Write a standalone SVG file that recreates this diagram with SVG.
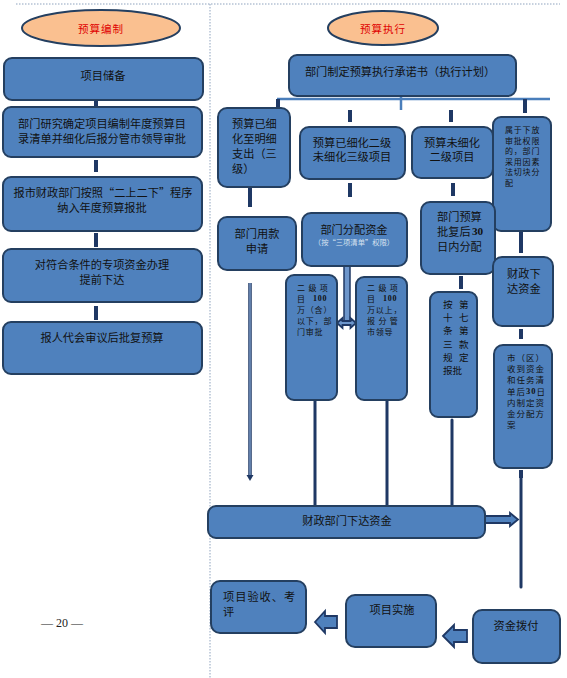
<svg xmlns="http://www.w3.org/2000/svg" width="567" height="678" viewBox="0 0 567 678">
<style>
.box{fill:#4F81BD;stroke:#243F60;stroke-width:2}
.el{fill:#FAC090;stroke:#243F60;stroke-width:2}
.t{font-family:"Noto Sans CJK SC","Noto Sans",sans-serif;fill:#111;dominant-baseline:central;font-size:11.2px}
.c{text-anchor:middle}
.r{fill:#E00000;font-size:10.5px;letter-spacing:1px}
.s{font-size:8px;letter-spacing:0.8px}
.m{font-size:8.5px;letter-spacing:1px}
.l{font-size:9.6px}
.n{font-family:"Liberation Serif",serif;font-weight:bold}
.bar{stroke:#1F3864;stroke-width:4;fill:none}
.ln{stroke:#1F3864;stroke-width:3;fill:none;stroke-linecap:round}
.dot{stroke:#8EA3BE;stroke-width:1;stroke-dasharray:1.5 1.5;fill:none}
.blk{fill:#4F81BD;stroke:#1F3864;stroke-width:1.8}
</style>
<rect width="567" height="678" fill="#fff"/>
<g id="frame">
<line class="dot" x1="16" y1="4" x2="560" y2="4"/>
<line class="dot" x1="210" y1="4" x2="210" y2="678"/>
</g>
<g id="connectors">
<line class="bar" x1="96" y1="101" x2="96" y2="108"/>
<line class="bar" x1="96" y1="160" x2="96" y2="172"/>
<line class="bar" x1="96" y1="233" x2="96" y2="247"/>
<line class="bar" x1="96" y1="306" x2="96" y2="320"/>
<line x1="277" y1="99" x2="550" y2="99" stroke="#4A7EBB" stroke-width="2.5"/>
<line x1="401" y1="92" x2="401" y2="110" stroke="#4A7EBB" stroke-width="2.5"/>
<line class="bar" x1="278" y1="99" x2="278" y2="110"/>
<line class="bar" x1="350" y1="110" x2="350" y2="122"/>
<line class="bar" x1="451" y1="110" x2="451" y2="122"/>
<line class="bar" x1="525" y1="99" x2="525" y2="113"/>
<line class="bar" x1="350" y1="183" x2="350" y2="197"/>
<line class="bar" x1="453" y1="183" x2="453" y2="196"/>
<line class="bar" x1="250" y1="187" x2="250" y2="207"/>
<line class="bar" x1="521" y1="232" x2="521" y2="253"/>
<line class="bar" x1="521" y1="329" x2="521" y2="339"/>
<line class="bar" x1="461" y1="276" x2="461" y2="289"/>
<line class="bar" x1="521" y1="470" x2="521" y2="478"/>
<line x1="250" y1="283" x2="250" y2="476" stroke="#1F3864" stroke-width="3.5"/>
<line x1="250" y1="283" x2="250" y2="476" stroke="#8FB0DA" stroke-width="1.2"/>
<path d="M246.5,475 L253.5,475 L250,481 Z" fill="#1F3864"/>
<line class="ln" x1="315" y1="400" x2="315" y2="505"/>
<line class="ln" x1="387" y1="400" x2="387" y2="505"/>
<line class="ln" x1="452" y1="420" x2="452" y2="505"/>
<line class="ln" x1="521" y1="478" x2="521" y2="587"/>
<rect x="344" y="266" width="6" height="55" fill="#6D96CB" stroke="#1F3864" stroke-width="1.5"/>
<path class="blk" d="M337,323 L342.5,318 L342.5,321 L350.5,321 L350.5,318 L356,323 L350.5,328 L350.5,325 L342.5,325 L342.5,328 Z" style="fill:#6D96CB"/>
<path class="blk" d="M485,516 L510,516 L510,513 L518,519.5 L510,526 L510,523 L485,523 Z"/>
<path class="blk" d="M315,622 L325,611 L325,616 L337,616 L337,628 L325,628 L325,633 Z"/>
<path class="blk" d="M443,636 L454,625 L454,630 L467,630 L467,642 L454,642 L454,647 Z"/>
</g>
<g id="ell-left"><ellipse class="el" cx="101" cy="28" rx="79" ry="18"/><text class="t c r" x="101" y="28">预算编制</text></g>
<g id="ell-right"><ellipse class="el" cx="383" cy="28" rx="55" ry="17"/><text class="t c r" x="383" y="28">预算执行</text></g>
<g id="n1"><rect class="box" x="4" y="58" width="199" height="42" rx="8"/><text class="t c" x="103" y="75">项目储备</text></g>
<g id="n2"><rect class="box" x="3" y="107" width="199" height="50" rx="8"/><text class="t c" x="102" y="123">部门研究确定项目编制年度预算目</text><text class="t c" x="102" y="137.5">录清单并细化后报分管市领导审批</text></g>
<g id="n3"><rect class="box" x="3" y="177" width="199" height="54" rx="8"/><text class="t c" x="103" y="192">报市财政部门按照“二上二下”程序</text><text class="t c" x="102" y="207">纳入年度预算报批</text></g>
<g id="n4"><rect class="box" x="3" y="249" width="199" height="53" rx="8"/><text class="t c" x="102" y="264">对符合条件的专项资金办理</text><text class="t c" x="102" y="278.5">提前下达</text></g>
<g id="n5"><rect class="box" x="3" y="322" width="199" height="52" rx="8"/><text class="t c" x="102" y="337">报人代会审议后批复预算</text></g>
<g id="r0"><rect class="box" x="289" y="55" width="227" height="41" rx="8"/><text class="t c" x="400" y="71">部门制定预算执行承诺书（执行计划）</text></g>
<g id="rA"><rect class="box" x="218" y="108" width="72" height="79" rx="9"/>
<text class="t"><tspan x="232" y="123">预算已细</tspan><tspan x="232" y="138">化至明细</tspan><tspan x="232" y="153">支出（三</tspan><tspan x="232" y="167.5">级）</tspan></text></g>
<g id="rB"><rect class="box" x="300" y="127" width="105" height="52" rx="9"/><text class="t c" x="352" y="141.5">预算已细化二级</text><text class="t c" x="352" y="156">未细化三级项目</text></g>
<g id="rC"><rect class="box" x="412" y="127" width="81" height="51" rx="9"/><text class="t c" x="452" y="141.5">预算未细化</text><text class="t c" x="452" y="156">二级项目</text></g>
<g id="rD"><rect class="box" x="493" y="117" width="58" height="114" rx="8"/>
<text class="t s"><tspan x="505" y="129">属于下放</tspan><tspan x="505" y="139.6">审批权限</tspan><tspan x="505" y="150.2">的，部门</tspan><tspan x="505" y="160.8">采用因素</tspan><tspan x="505" y="171.4">法切块分</tspan><tspan x="505" y="182">配</tspan></text></g>
<g id="rE"><rect class="box" x="218" y="217" width="78" height="53" rx="9"/><text class="t c" x="257" y="233">部门用款</text><text class="t c" x="257" y="247.5">申请</text></g>
<g id="rF"><rect class="box" x="302" y="213" width="105" height="53" rx="9"/><text class="t c" x="354" y="229">部门分配资金</text><text class="t c" x="354" y="242" style="font-size:7.3px;fill:#D6E1F0">（按“三项清单”权限）</text></g>
<g id="rG"><rect class="box" x="421" y="202" width="74" height="72" rx="9"/><text class="t"><tspan x="437" y="216">部门预算</tspan><tspan x="437" y="231">批复后</tspan><tspan class="n" x="472" y="231">30</tspan><tspan x="437" y="246">日内分配</tspan></text></g>
<g id="rH"><rect class="box" x="493" y="257" width="60" height="69" rx="9"/><text class="t" x="507" y="273">财政下</text><text class="t" x="507" y="288">达资金</text></g>
<g id="rI"><rect class="box" x="494" y="345" width="58" height="123" rx="9"/>
<text class="t m"><tspan x="507" y="357">市（区）</tspan><tspan x="507" y="368.2">收到资金</tspan><tspan x="507" y="379.4">和任务清</tspan><tspan x="507" y="390.6">单后</tspan><tspan class="n">30</tspan><tspan>日</tspan><tspan x="507" y="401.8">内制定资</tspan><tspan x="507" y="413">金分配方</tspan><tspan x="507" y="424.2">案</tspan></text></g>
<g id="rJ"><rect class="box" x="286" y="275" width="51" height="125" rx="8"/>
<text class="t s"><tspan x="297" y="287">二 级 项</tspan><tspan x="297" y="298">目</tspan><tspan class="n" x="313" y="298">100</tspan><tspan x="297" y="309">万（含）</tspan><tspan x="297" y="320">以下，部</tspan><tspan x="297" y="331">门审批</tspan></text></g>
<g id="rK"><rect class="box" x="356" y="277" width="51" height="123" rx="8"/>
<text class="t s"><tspan x="367" y="287">二 级 项</tspan><tspan x="367" y="298">目</tspan><tspan class="n" x="383" y="298">100</tspan><tspan x="367" y="309">万以上，</tspan><tspan x="367" y="320">报 分 管</tspan><tspan x="367" y="331">市领导</tspan></text></g>
<g id="rL"><rect class="box" x="430" y="292" width="47" height="125" rx="8"/>
<text class="t l" x="443" y="304">按<tspan x="459">第</tspan></text><text class="t l" x="443" y="317.2">十<tspan x="459">七</tspan></text><text class="t l" x="443" y="330.4">条<tspan x="459">第</tspan></text><text class="t l" x="443" y="343.6">三<tspan x="459">款</tspan></text><text class="t l" x="443" y="356.8">规<tspan x="459">定</tspan></text><text class="t l" x="443" y="370">报批</text></g>
<g id="rM"><rect class="box" x="208" y="506" width="277" height="32" rx="8"/><text class="t c" x="347" y="520">财政部门下达资金</text></g>
<g id="rN"><rect class="box" x="211" y="581" width="95" height="52" rx="9"/><text class="t" x="223" y="596" letter-spacing="1">项目验收、考</text><text class="t" x="223" y="611">评</text></g>
<g id="rO"><rect class="box" x="346" y="595" width="90" height="52" rx="9"/><text class="t c" x="392" y="609">项目实施</text></g>
<g id="rP"><rect class="box" x="473" y="610" width="87" height="53" rx="9"/><text class="t c" x="516" y="625">资金拨付</text></g>
<g id="page"><text x="62" y="623" text-anchor="middle" dominant-baseline="central" font-family="Liberation Serif" font-size="12" fill="#222">— 20 —</text></g>
</svg>
